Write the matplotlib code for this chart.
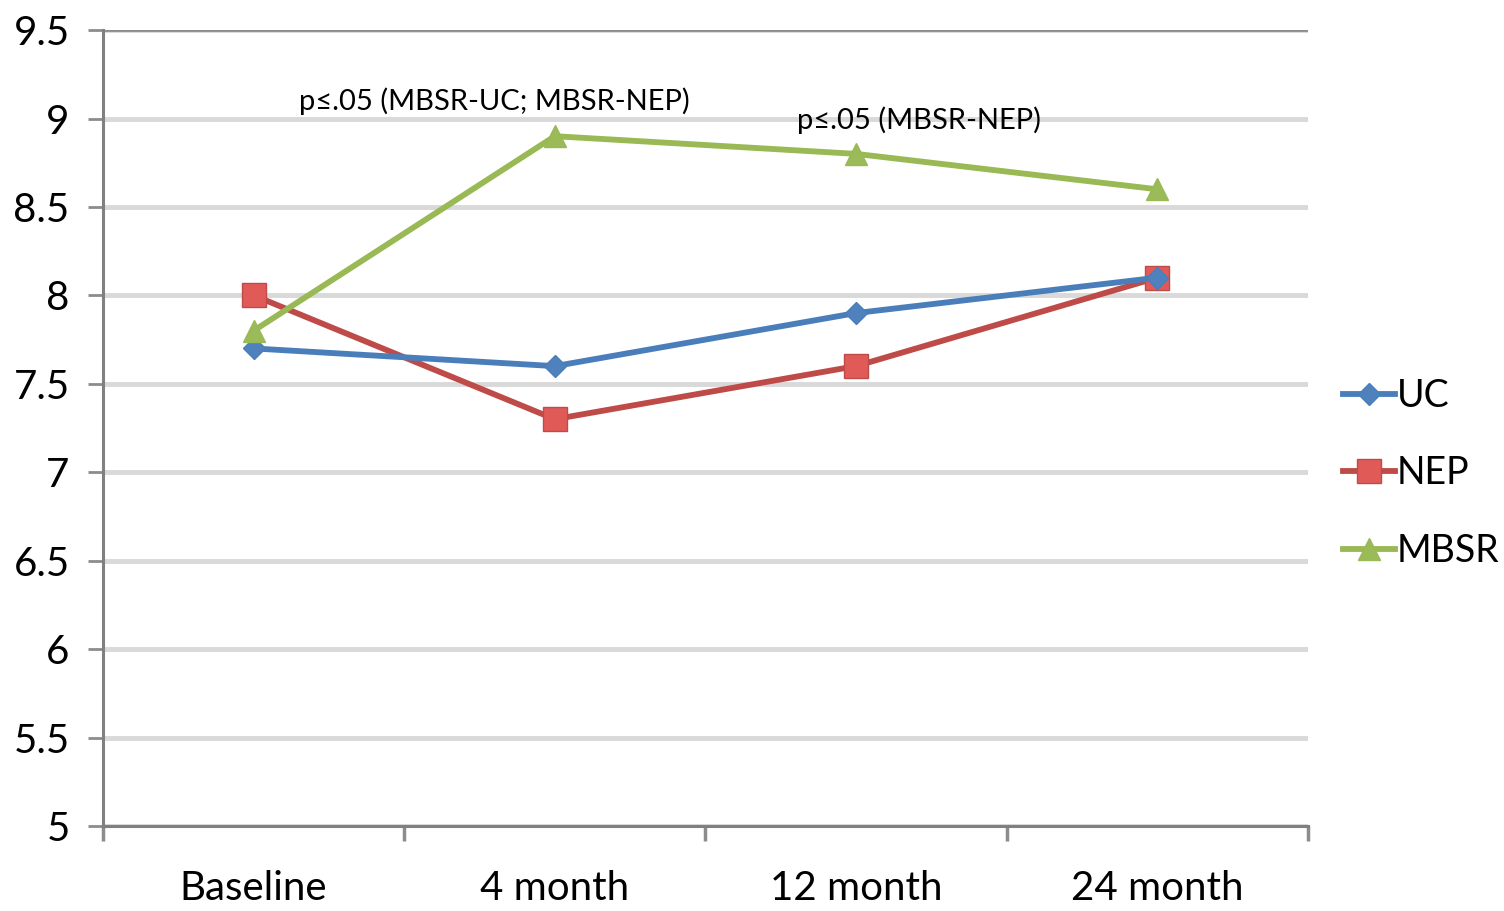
import matplotlib.pyplot as plt
import numpy as np
from matplotlib.ticker import FixedLocator, NullFormatter

plt.rcParams['font.family'] = ['Lato', 'DejaVu Sans']

categories = ['Baseline', '4 month', '12 month', '24 month']
uc = [7.7, 7.6, 7.9, 8.1]
nep = [8.0, 7.3, 7.6, 8.1]
mbsr = [7.8, 8.9, 8.8, 8.6]
y_ticks = [5, 5.5, 6, 6.5, 7, 7.5, 8, 8.5, 9, 9.5]
y_labels = ['5', '5.5', '6', '6.5', '7', '7.5', '8', '8.5', '9', '9.5']
notes = ['p≤.05 (MBSR-UC; MBSR-NEP)', 'p≤.05 (MBSR-NEP)']

fig = plt.figure(figsize=(15.04, 9.11), dpi=100)
ax = fig.add_axes([0.0685, 0.0933, 0.801, 0.8737])

x = np.arange(len(categories))

ax.plot(x, uc, color='#4a7ebb', lw=4.2, marker='D', ms=11,
        mfc='#4f81bd', mec='#4a7ebb', label='UC', zorder=4)
ax.plot(x, nep, color='#be4b48', lw=4.2, marker='s', ms=17,
        mfc='#e05a57', mec='#be4b48', label='NEP', zorder=3)
ax.plot(x, mbsr, color='#98b954', lw=4.2, marker='^', ms=16,
        mfc='#9bbb59', mec='#98b954', label='MBSR', zorder=5)

ax.set_xlim(-0.5, len(categories) - 0.5)
ax.set_ylim(5, 9.5)

# category boundaries get tick marks, labels sit at the centres
ax.xaxis.set_major_locator(FixedLocator(np.arange(-0.5, len(categories), 1.0)))
ax.xaxis.set_major_formatter(NullFormatter())
ax.xaxis.set_minor_locator(FixedLocator(x))
ax.set_xticklabels(categories, minor=True, fontsize=29)
ax.tick_params(axis='x', which='major', length=11, width=2.5, color='#8c8c8c', direction='out')
ax.tick_params(axis='x', which='minor', length=0, pad=32)

ax.set_yticks(y_ticks)
ax.set_yticklabels(y_labels, fontsize=29)
ax.tick_params(axis='y', length=11, width=2, color='#8c8c8c', pad=13)

ax.grid(axis='y', color='#d9d9d9', lw=3.5, zorder=0)
ax.set_axisbelow(True)
ax.axhline(9.5, color='#8c8c8c', lw=2, zorder=1)

for side in ['top', 'right']:
    ax.spines[side].set_visible(False)
for side in ['left', 'bottom']:
    ax.spines[side].set_color('#808080')
    ax.spines[side].set_linewidth(2.2)

ax.text(0.8, 9.1, notes[0], fontsize=21, ha='center', va='center')
ax.text(2.21, 8.99, notes[1], fontsize=21, ha='center', va='center')

leg = ax.legend(loc='center left', bbox_to_anchor=(1.029, 0.443), frameon=False,
                fontsize=27, handlelength=1.4, handletextpad=0.05, labelspacing=1.1,
                borderpad=0, borderaxespad=0)

fig.savefig('out.png', dpi=100)
